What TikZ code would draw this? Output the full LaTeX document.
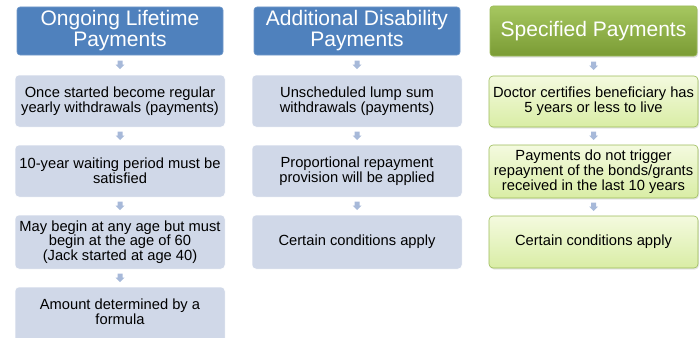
\documentclass[tikz,border=0pt]{standalone}
\usepackage{fontspec}
\setmainfont{Liberation Sans}
\usetikzlibrary{shadows,calc}
\definecolor{hblue}{HTML}{4F81BD}
\definecolor{bblue}{HTML}{D0D8E8}
\definecolor{ablue}{HTML}{A7B9D9}
\definecolor{gtop}{HTML}{A6C760}
\definecolor{gbot}{HTML}{7A9B34}
\definecolor{gborder}{HTML}{9BBB59}
\definecolor{ltop}{HTML}{F4FADF}
\definecolor{lbot}{HTML}{D9EDA5}
\tikzset{
  x=1pt, y=-1pt,
  hfont/.style={font=\fontsize{21}{21}\selectfont},
  bfont/.style={font=\fontsize{14.7}{13.6}\selectfont},
  hdr/.style={hfont, rounded corners=3pt, fill=hblue, draw=hblue!80!white, line width=0.6pt,
    text=white, align=center, minimum width=206pt, minimum height=48pt, inner sep=0pt},
  ghdr/.style={hfont, rounded corners=3pt, top color=gtop, bottom color=gbot, draw=gborder,
    line width=0.6pt, drop shadow={opacity=0.25, shadow xshift=1pt, shadow yshift=-1.5pt},
    text=white, align=center, minimum width=207pt, minimum height=50pt, inner sep=0pt},
  bbox/.style={bfont, rounded corners=4pt, fill=bblue, draw=white, line width=0.5pt,
    align=center, minimum width=210pt, minimum height=52pt, inner sep=0pt},
  gbox/.style={bfont, rounded corners=4pt, top color=ltop, bottom color=lbot, draw=gborder,
    line width=0.6pt, drop shadow={opacity=0.2, shadow xshift=1pt, shadow yshift=-1.5pt},
    align=center, minimum width=209pt, minimum height=52pt, inner sep=0pt}
}
\newcommand{\downarr}[2]{%
  \path let \p1=($(#1.south)!0.5!(#2.north)$) in
    [fill=ablue] (\x1-2.5pt,\y1+4.5pt) -- (\x1+2.5pt,\y1+4.5pt) -- (\x1+2.5pt,\y1+0.5pt)
    -- (\x1+4.5pt,\y1+0.5pt) -- (\x1,\y1-4pt) -- (\x1-4.5pt,\y1+0.5pt) -- (\x1-2.5pt,\y1+0.5pt) -- cycle;}
\begin{document}
\begin{tikzpicture}
\useasboundingbox (0,0) rectangle (700,337);
% column 1
\node[hdr] (h1) at (120,31) {Ongoing Lifetime\\Payments};
\node[bbox] (a1) at (120,101) {Once started become regular\\yearly withdrawals (payments)};
\node[bbox] (a2) at (120,171) {10-year waiting period must be\\satisfied};
\node[bbox, minimum height=54pt] (a3) at (120,242) {May begin at any age but must\\begin at the age of 60\\(Jack started at age 40)};
\node[bbox, minimum height=58pt] (a4) at (120,316) {};
\node[bfont, align=center] (a4t) at (120,312) {Amount determined by a\\formula};
% column 2
\node[hdr] (h2) at (357,31) {Additional Disability\\Payments};
\node[bbox] (b1) at (357,101) {Unscheduled lump sum\\withdrawals (payments)};
\node[bbox] (b2) at (357,171) {Proportional repayment\\provision will be applied};
\node[bbox, minimum height=54pt] (b3) at (357,242) {Certain conditions apply};
% column 3
\node[ghdr] (h3) at (593.5,31) {Specified Payments};
\node[gbox, minimum height=51pt] (c1) at (593.5,101.5) {Doctor certifies beneficiary has\\5 years or less to live};
\node[gbox, minimum height=53pt] (c2) at (593.5,171.5) {Payments do not trigger\\repayment of the bonds/grants\\received in the last 10 years};
\node[gbox] (c3) at (593.5,242) {Certain conditions apply};
% arrows
\downarr{h1}{a1}\downarr{a1}{a2}\downarr{a2}{a3}\downarr{a3}{a4}
\downarr{h2}{b1}\downarr{b1}{b2}\downarr{b2}{b3}
\downarr{h3}{c1}\downarr{c1}{c2}\downarr{c2}{c3}
\end{tikzpicture}
\end{document}
